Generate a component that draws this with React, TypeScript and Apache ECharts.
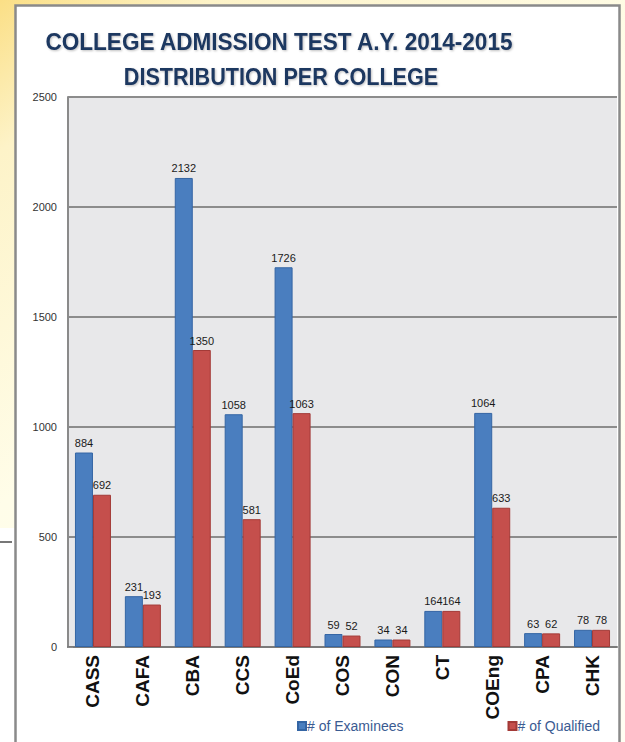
import React, { useEffect, useRef } from "react";
import * as echarts from "echarts";

const categories = ["CASS", "CAFA", "CBA", "CCS", "CoEd", "COS", "CON", "CT", "COEng", "CPA", "CHK"];
const examinees = [884, 231, 2132, 1058, 1726, 59, 34, 164, 1064, 63, 78];
const qualified = [692, 193, 1350, 581, 1063, 52, 34, 164, 633, 62, 78];
const titleLine1 = "COLLEGE ADMISSION TEST A.Y. 2014-2015";
const titleLine2 = "DISTRIBUTION PER COLLEGE";

export default function App() {
  const ref = useRef<HTMLDivElement>(null);
  useEffect(() => {
    if (!ref.current) return;
    const chart = echarts.init(ref.current, undefined, { renderer: "svg" });
    const labelStyle = {
      show: true,
      position: "top",
      distance: 4,
      fontSize: 11,
      fontFamily: "'Liberation Sans Narrow', Arial, sans-serif",
      color: "#1a1a1a",
    };
    chart.setOption({
      animation: false,
      backgroundColor: "transparent",
      graphic: [
        {
          type: "rect",
          z: -10,
          silent: true,
          shape: { x: 0, y: 0, width: 625, height: 742 },
          style: {
            fill: new echarts.graphic.LinearGradient(0, 0, 0.6, 1, [
              { offset: 0, color: "#fbdf86" },
              { offset: 0.15, color: "#fdf3c8" },
              { offset: 0.5, color: "#fffde9" },
              { offset: 1, color: "#fffef2" },
            ]),
          },
        },
        {
          type: "rect",
          z: -9,
          silent: true,
          shape: { x: 0, y: 528, width: 16, height: 214 },
          style: { fill: "#ffffff" },
        },
        {
          type: "line",
          z: -8,
          silent: true,
          shape: { x1: 0, y1: 542, x2: 12, y2: 542 },
          style: { stroke: "#777", lineWidth: 2 },
        },
        {
          type: "rect",
          z: -7,
          silent: true,
          shape: { x: 15.5, y: 5.5, width: 604, height: 745 },
          style: { fill: "#ffffff", stroke: "#8a8a8a", lineWidth: 2.5 },
        },
        {
          type: "text",
          x: 279,
          y: 42,
          scaleX: 0.94,
          style: {
            text: titleLine1,
            fontSize: 24,
            fontWeight: "bold",
            fontFamily: "Arial, 'Liberation Sans', sans-serif",
            fill: "#1f3760",
            align: "center",
            verticalAlign: "middle",
            textShadowColor: "rgba(0,0,0,0.25)",
            textShadowBlur: 2,
            textShadowOffsetX: 1,
            textShadowOffsetY: 1,
          },
        },
        {
          type: "text",
          x: 281,
          y: 77,
          scaleX: 0.9,
          style: {
            text: titleLine2,
            fontSize: 24,
            fontWeight: "bold",
            fontFamily: "Arial, 'Liberation Sans', sans-serif",
            fill: "#1f3760",
            align: "center",
            verticalAlign: "middle",
            textShadowColor: "rgba(0,0,0,0.25)",
            textShadowBlur: 2,
            textShadowOffsetX: 1,
            textShadowOffsetY: 1,
          },
        },
      ],
      grid: {
        left: 68,
        right: 8,
        top: 97,
        bottom: 95,
        show: true,
        backgroundColor: "#e8e8ea",
        borderWidth: 0,
      },
      legend: {
        left: 292,
        top: 714,
        itemWidth: 8,
        itemHeight: 8,
        itemGap: 104,
        icon: "rect",
        textStyle: {
          fontSize: 14,
          fontFamily: "Arial, sans-serif",
          color: "#3a5b92",
          padding: [0, 0, 0, -4],
        },
        data: ["# of Examinees", "# of Qualified"],
      },
      xAxis: {
        type: "category",
        data: categories,
        axisLine: { lineStyle: { color: "#7a7a7a", width: 2 } },
        axisTick: { show: false },
        axisLabel: {
          rotate: 90,
          margin: 8,
          fontSize: 19,
          fontWeight: "bold",
          fontFamily: "'Liberation Sans Narrow', Arial, sans-serif",
          color: "#111",
        },
      },
      yAxis: {
        type: "value",
        min: 0,
        max: 2500,
        interval: 500,
        axisLine: { show: true, lineStyle: { color: "#8a8a8a", width: 2 } },
        axisTick: { show: true, inside: true, length: 5, lineStyle: { color: "#8a8a8a" } },
        axisLabel: {
          margin: 11,
          fontSize: 11,
          fontFamily: "'Liberation Sans Narrow', Arial, sans-serif",
          color: "#333",
          formatter: (v: number) => String(v),
        },
        splitLine: { lineStyle: { color: "#8c8c8c", width: 2 } },
      },
      series: [
        {
          name: "# of Examinees",
          type: "bar",
          data: examinees,
          barWidth: 18,
          barGap: "0%",
          itemStyle: { color: "#4a7ebf", borderColor: "#3465a4", borderWidth: 1 },
          label: labelStyle,
        },
        {
          name: "# of Qualified",
          type: "bar",
          data: qualified,
          barWidth: 18,
          barGap: "0%",
          itemStyle: { color: "#c54f4c", borderColor: "#a33a37", borderWidth: 1 },
          label: labelStyle,
        },
      ],
    });
    return () => chart.dispose();
  }, []);
  return (
    <div
      ref={ref}
      style={{ position: "absolute", left: 0, top: 0, width: 625, height: 742 }}
    />
  );
}
